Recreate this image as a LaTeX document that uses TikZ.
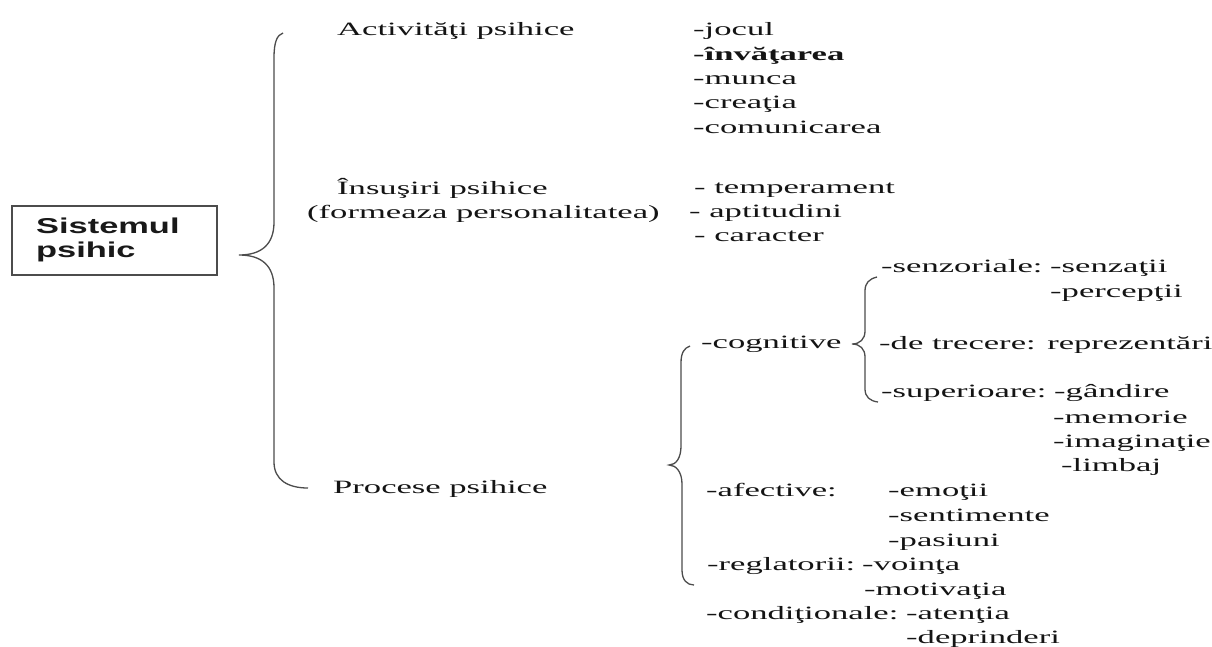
\documentclass[tikz,border=0pt]{standalone}
\usepackage{fontspec}
\setmainfont{Liberation Serif}[FakeStretch=1.84]
\newfontfamily\boxfont{Liberation Sans}[FakeStretch=1.6]
\begin{document}
\begin{tikzpicture}[x=1pt,y=-1pt,
  txt/.style={anchor=base west, inner sep=0pt, text=black!92, font=\fontsize{18.8}{24}\selectfont},
  boxtxt/.style={anchor=base west, inner sep=0pt, text=black!90, font=\boxfont\bfseries\fontsize{21.5}{24}\selectfont},
  brace/.style={draw=black!70, line width=1.3pt},
  framebox/.style={draw=black!70, line width=1.5pt}]
\useasboundingbox[fill=white] (0,0) rectangle (1212,646);
% box
\node[framebox, minimum width=205pt, minimum height=69pt, inner sep=0pt] (sys) at (114.5,240.5) {};
\node[boxtxt] (sys1) at (36,233) {Sistemul};
\node[boxtxt] (sys2) at (36,257) {psihic};
% main brace
\coordinate (mb1) at (283,33);
\coordinate (mbt) at (239,255);
\coordinate (mb2) at (308,488);
\draw[brace] (mb1) .. controls (277,35) and (274,42) .. (274,58) -- (274,222)
  .. controls (274,244) and (262,255) .. (mbt)
  .. controls (262,255) and (274,266) .. (274,288) -- (274,462)
  .. controls (274,480) and (288,488) .. (mb2);
% first-level labels
\node[txt] (act) at (337,35) {Activităţi psihice};
\node[txt] (ins) at (337,194) {Însuşiri psihice};
\node[txt] (form) at (307,218) {(formeaza personalitatea)};
\node[txt] (proc) at (333,493) {Procese psihice};
% activities
\node[txt] (a1) at (693,35) {-jocul};
\node[txt, font=\bfseries\fontsize{18.8}{24}\selectfont] (a2) at (693,60) {-învăţarea};
\node[txt] (a3) at (693,84) {-munca};
\node[txt] (a4) at (693,108) {-creaţia};
\node[txt] (a5) at (693,133) {-comunicarea};
% traits
\node[txt] (t1) at (694,193) {- temperament};
\node[txt] (t2) at (689,217) {- aptitudini};
\node[txt] (t3) at (694,241) {- caracter};
% process brace
\coordinate (pb1) at (690,346);
\coordinate (pbt) at (669,465);
\coordinate (pb2) at (694,585);
\draw[brace] (pb1) .. controls (684,348) and (681,353) .. (681,363) -- (681,446)
  .. controls (681,458) and (676,465) .. (pbt)
  .. controls (676,465) and (682,472) .. (682,484) -- (682,570)
  .. controls (682,580) and (687,585) .. (pb2);
% cognitive
\node[txt] (cog) at (701,348) {-cognitive};
\coordinate (cb1) at (877,277);
\coordinate (cbt) at (852,344);
\coordinate (cb2) at (878,402);
\draw[brace] (cb1) .. controls (869,279) and (865,283) .. (865,291) -- (865,331)
  .. controls (865,339) and (860,344) .. (cbt)
  .. controls (860,344) and (865,349) .. (865,357) -- (865,389)
  .. controls (865,397) and (870,401) .. (cb2);
\node[txt] (sen) at (881,272) {-senzoriale:};
\node[txt] (sen1) at (1050,272) {-senzaţii};
\node[txt] (sen2) at (1050,297) {-percepţii};
\node[txt] (tre) at (879,349) {-de trecere: reprezentări};
\node[txt] (sup) at (881,397) {-superioare:};
\node[txt] (sup1) at (1054,397) {-gândire};
\node[txt] (sup2) at (1053,423) {-memorie};
\node[txt] (sup3) at (1053,447) {-imaginaţie};
\node[txt] (sup4) at (1061,471) {-limbaj};
% affective
\node[txt] (afe) at (706,496) {-afective:};
\node[txt] (afe1) at (888,496) {-emoţii};
\node[txt] (afe2) at (888,521) {-sentimente};
\node[txt] (afe3) at (888,546) {-pasiuni};
% regulatory
\node[txt] (reg) at (707,570) {-reglatorii:};
\node[txt] (reg1) at (862,570) {-voinţa};
\node[txt] (reg2) at (864,595) {-motivaţia};
% conditional
\node[txt] (con) at (706,619) {-condiţionale:};
\node[txt] (con1) at (906,619) {-atenţia};
\node[txt] (con2) at (906,643) {-deprinderi};
\end{tikzpicture}
\end{document}
